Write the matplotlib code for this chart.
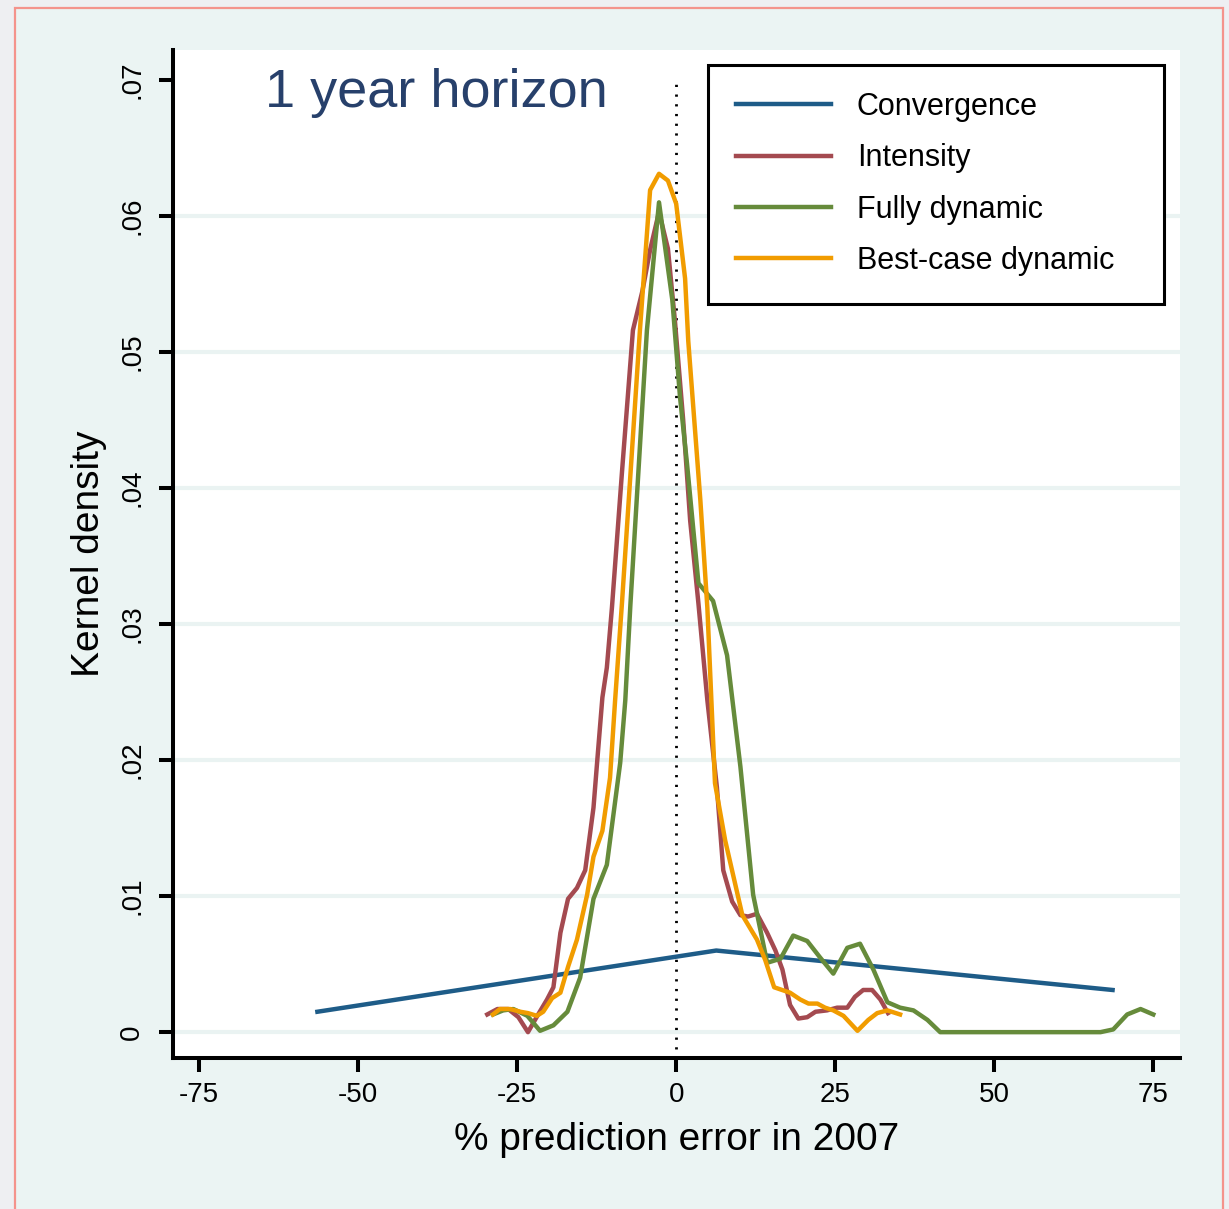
import matplotlib
matplotlib.use("Agg")
import matplotlib.pyplot as plt
from matplotlib.patches import Rectangle

plt.rcParams['font.family'] = ['Liberation Sans', 'DejaVu Sans']

# kernel density of % prediction error, 1 year horizon
conv_x = [-56.4, 6.3, 68.6]
conv_y = [0.0015, 0.0060, 0.0031]

int_x = [-29.7, -28.1, -26.4, -24.8, -23.3, -21.7, -20.3, -19.3, -18.2, -17.0,
         -15.6, -14.3, -13.0, -12.4, -11.6, -10.9, -10.1, -8.5, -6.8, -5.3,
         -4.1, -2.7, -1.3, -0.2, 1.1, 2.2, 3.5, 4.9, 6.4, 7.4,
         8.8, 10.1, 11.3, 12.7, 14.3, 15.6, 16.7, 17.9, 19.2, 20.6,
         21.9, 23.7, 25.3, 26.9, 28.1, 29.4, 30.8, 32.1, 33.3]
int_y = [.0013, .0017, .0017, .0011, 0, .0013, .0024, .0033, .0073, .0098,
         .0106, .0119, .0165, .0200, .0246, .0268, .0312, .0413, .0516, .0545,
         .0575, .0603, .0576, .0523, .0450, .0376, .0315, .0244, .0180, .0119,
         .0096, .0086, .0085, .0087, .0073, .0060, .0046, .0020, .0010, .0011,
         .0015, .0016, .0018, .0018, .0026, .0031, .0031, .0024, .0014]

full_x = [-28.8, -27.2, -25.6, -23.4, -21.4, -19.3, -17.1, -15.1, -13.0, -10.9,
          -8.8, -8.0, -7.2, -4.6, -2.7, -0.6, 0.6, 1.7, 3.5, 5.8,
          8.0, 10.1, 12.1, 14.3, 16.4, 18.4, 20.6, 22.6, 24.7, 26.9,
          28.9, 31.0, 33.2, 35.2, 37.3, 39.5, 41.5, 66.7, 68.7, 70.9,
          73.0, 75.0]
full_y = [.0013, .0016, .0017, .0012, .0001, .0005, .0015, .0040, .0098, .0123,
          .0198, .0244, .0314, .0516, .0610, .0538, .0467, .0418, .0330, .0317,
          .0277, .0195, .0101, .0051, .0054, .0071, .0067, .0055, .0043, .0062,
          .0065, .0046, .0022, .0018, .0016, .0009, 0, 0, .0002, .0013,
          .0017, .0013]

best_x = [-28.8, -27.7, -26.1, -24.5, -23.3, -21.9, -20.9, -19.5, -18.2, -17.0,
          -15.6, -14.0, -13.0, -11.6, -10.4, -9.6, -8.5, -5.7, -4.1, -2.7,
          -1.3, 0.0, 1.4, 1.9, 3.8, 4.9, 6.1, 7.7, 10.4, 12.7,
          14.0, 15.4, 17.9, 19.5, 20.8, 22.2, 23.4, 24.7, 26.3, 28.5,
          30.2, 31.6, 33.2, 35.2]
best_y = [.0013, .0017, .0017, .0015, .0014, .0012, .0015, .0025, .0029, .0048,
          .0068, .0101, .0129, .0148, .0187, .0244, .0317, .0516, .0619, .0631,
          .0626, .0609, .0554, .0508, .0391, .0312, .0183, .0141, .0086, .0068,
          .0053, .0033, .0029, .0024, .0021, .0021, .0018, .0016, .0012, .0001,
          .0009, .0014, .0016, .0013]

xticks = [-75, -50, -25, 0, 25, 50, 75]
xtick_labels = ['-75', '-50', '-25', '0', '25', '50', '75']
yticks = [0, 0.01, 0.02, 0.03, 0.04, 0.05, 0.06, 0.07]
ytick_labels = ['0', '.01', '.02', '.03', '.04', '.05', '.06', '.07']

W, H = 1229, 1209
fig = plt.figure(figsize=(W / 100, H / 100), dpi=100, facecolor='#EEEFF2')
fig.patches.append(Rectangle((15 / W, -0.02), (1223 - 15) / W, 1.02 - 8 / H,
                             transform=fig.transFigure, facecolor='#EBF4F3',
                             edgecolor='#F4938C', lw=1.6, zorder=-10))

ax = fig.add_axes([173 / W, 1 - 1058 / H, (1180 - 173) / W, (1058 - 50) / H])
ax.set_facecolor('white')
ax.set_xlim(-79.1, 79.2)
ax.set_ylim(-0.0019, 0.0722)

for s in ['top', 'right']:
    ax.spines[s].set_visible(False)
for s in ['left', 'bottom']:
    ax.spines[s].set_linewidth(2.9)

for y in yticks[:-1]:
    ax.axhline(y, color='#EAF3F2', lw=3, zorder=0.5)
ax.axvline(0, ymin=0.009, ymax=0.967, color='black', lw=2,
           linestyle=(0, (0.8, 2.7)), zorder=1)

lw = 3.2
ax.plot(conv_x, conv_y, color='#1E5C88', lw=lw, label='Convergence', zorder=3)
ax.plot(int_x, int_y, color='#A44A50', lw=lw, label='Intensity', zorder=3)
ax.plot(full_x, full_y, color='#668B3B', lw=lw, label='Fully dynamic', zorder=3)
ax.plot(best_x, best_y, color='#F19C00', lw=lw, label='Best-case dynamic', zorder=3)

ax.set_xticks(xticks)
ax.set_xticklabels(xtick_labels)
ax.set_yticks(yticks)
ax.set_yticklabels(ytick_labels, rotation=90, va='center')
ax.tick_params(axis='both', length=10, width=2.9, labelsize=20)
ax.tick_params(axis='x', pad=7)
ax.tick_params(axis='y', pad=10)

ax.set_xlabel('% prediction error in 2007', fontsize=28, labelpad=10)
ax.set_ylabel('Kernel density', fontsize=28, labelpad=9)

fig.text(265 / W, 1 - 107 / H, '1 year horizon', fontsize=39,
         color='#27406B', ha='left', va='baseline')

leg = ax.legend(loc='upper left',
                bbox_to_anchor=(708.5 / W, 1 - 64.5 / H, 455 / W, 0),
                bbox_transform=fig.transFigure, mode='expand', borderaxespad=0,
                fontsize=22, handlelength=3.1, handletextpad=0.85,
                labelspacing=0.7, borderpad=0.9, frameon=True, fancybox=False,
                framealpha=1, edgecolor='black', facecolor='white')
leg.get_frame().set_linewidth(2.2)

fig.savefig('out.png', dpi=100, facecolor=fig.get_facecolor())
